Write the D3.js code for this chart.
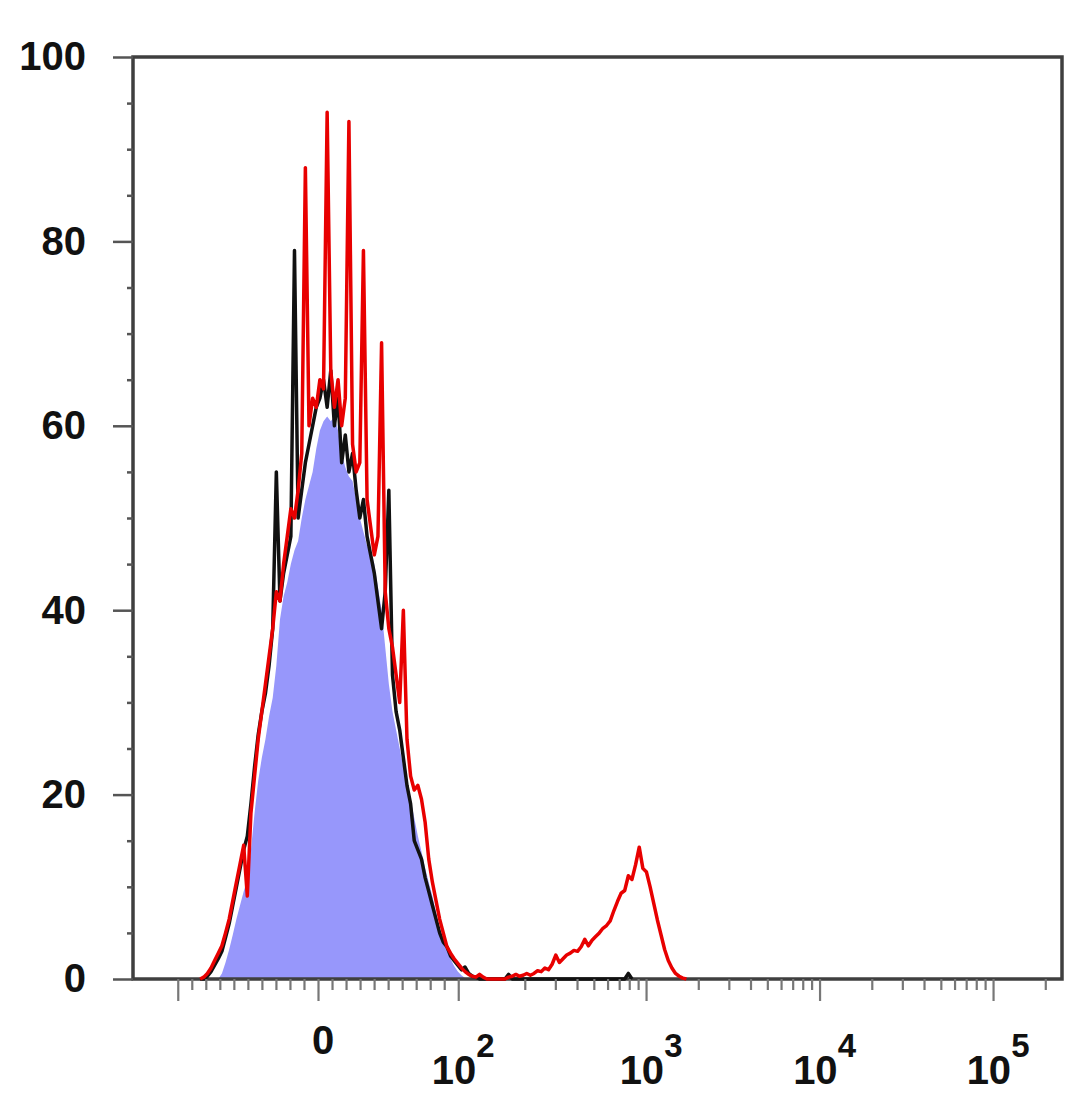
<!DOCTYPE html>
<html>
<head>
<meta charset="utf-8">
<script src="https://cdn.jsdelivr.net/npm/d3@7"></script>
<style>
  body { margin: 0; background: #fff; }
  text { font-family: "Liberation Sans", Arial, sans-serif; font-weight: bold; fill: #111; }
</style>
</head>
<body>
<script>
// histogram: 256 display channels, counts as % of max, series start at channel 18
var nBins = 256;
var firstBin = 18;

// filled (blue) histogram
var fillCounts = [0,0,0,0,0, 0,0.6,1.8,3.2,4.8, 6.5,8,9.5,10.8,14, 18,21.5,24,26,28.5,
  30.5,34,39,41.5,43, 45,46.5,47.5,50,52, 53.5,55,57.5,59.5,60.5, 61,60.5,61,59.5,57,
  55.5,54.5,54,52,50, 48.5,47,46.5,45,42.5, 40,36,32,29,27, 25,23,21.3,19.5,17.5,
  15.5,13.8,12,10.5,9, 7.2,5.6,4.4,3.2,2.2, 1.4,0.8,0.4,0.1,0];

// black outline histogram
var blackCounts = [0,0,0.3,0.8,1.5, 2.2,3,4.5,6,8, 10,12,14,15.5,19, 23,26.5,29,31,34,
  38,55,41,44,46, 48,79,50,53,56, 58,60,62,63,65, 62,66,60,63,56,
  59,55,57,53,50, 52,48,46,44,41, 38,42,53,33,29, 27,24,21,19,15,
  14,13,11,9.5,8, 6.5,5,4,3.5,2.5, 2,1.5,1,1.3,0.6, 0.3,0.2,0,0,0,
  0,0,0,0,0, 0.5,0,0,0,0, 0,0,0,0,0, 0,0,0,0,0, 0,0,0,0,0, 0,0,0,0,0,
  0,0,0,0,0, 0,0,0,0.6,0];

// red histogram
var redCounts = [0,0.2,0.6,1.2,2, 2.8,3.6,5,6.5,8.5, 10.5,12.5,14.5,9,18, 22,26,29,32,35,
  38,42,41,45,48, 51,50,53,57,88, 60,63,62,65,64, 94,66,62,65,60,
  63,93,58,55,56, 79,52,49,46,48, 69,42,38,36,33, 30,40,26,22,20.5,
  21,19.5,17,13,10.5, 8.5,6.5,5,3.5,2.8, 2.2,1.7,1.2,0.8,0.5, 0.3,0.2,0.5,0.2,0,
  0,0,0,0,0, 0.2,0.3,0.5,0.3,0.4, 0.6,0.4,0.6,0.9,0.8, 1.2,1,1.6,2.6,1.8,
  2.2,2.6,2.8,3.1,3, 3.5,4.3,3.6,4.2,4.6, 5,5.5,5.8,6.3,7.4, 8.4,9.3,9.6,11.2,10.8,
  12.4,14.3,12,11.6,10, 8.2,6.4,4.8,3.2,2, 1.2,0.6,0.3,0.1,0];

// axis ticks
var yMajor = [0, 20, 40, 60, 80, 100];
var yMinor = [5,10,15,25,30,35,45,50,55,65,70,75,85,90,95];
var xMajor = [-100, 0, 100, 1000, 10000, 100000];
var xMinor = [-90,-80,-70,-60,-50,-40,-30,-20,-10, 10,20,30,40,50,60,70,80,90,
  200,300,400,500,600,700,800,900, 2000,3000,4000,5000,6000,7000,8000,9000,
  20000,30000,40000,50000,60000,70000,80000,90000, 200000];
var xLabelValues = [0, 100, 1000, 10000, 100000];
var xLabelBase = ["0", "10", "10", "10", "10"];
var xLabelExp = ["", "2", "3", "4", "5"];

// biexponential-like display transform (linear near zero, log above)
var linLimit = 120, linDecades = 0.97;
function biex(v) {
  var a = Math.abs(v);
  var t = a <= linLimit ? a / linLimit * linDecades : linDecades + Math.log10(a / linLimit);
  return v < 0 ? -t : t;
}

var margin = {top: 57, right: 18, bottom: 117, left: 133},
    width = 1080 - margin.left - margin.right,
    height = 1096 - margin.top - margin.bottom;

var dMin = -1.0663, dMax = 4.2882;

var xScale = d3.scaleLinear().domain([dMin, dMax]).range([0, width]);
var binScale = d3.scaleLinear().domain([0, nBins]).range([dMin, dMax]);
var yScale = d3.scaleLinear().domain([0, 100]).range([height, 0]);

function toPoints(counts) {
  return counts.map(function(c, i) { return {bin: firstBin + i, count: c}; });
}
function binX(d) { return xScale(binScale(d.bin + 0.5)); }

var svg = d3.select("body").append("svg")
    .attr("width", 1080)
    .attr("height", 1096)
  .append("g")
    .attr("transform", "translate(" + margin.left + "," + margin.top + ")");

// filled histogram
var area = d3.area()
    .x(binX)
    .y0(height)
    .y1(function(d) { return yScale(d.count); });

svg.append("path")
    .datum(toPoints(fillCounts))
    .attr("fill", "#9797fb")
    .attr("d", area);

// frame
svg.append("rect")
    .attr("width", width)
    .attr("height", height)
    .attr("fill", "none")
    .attr("stroke", "#3f3f3f")
    .attr("stroke-width", 3.5);

var line = d3.line()
    .x(binX)
    .y(function(d) { return yScale(d.count); });

svg.append("path")
    .datum(toPoints(blackCounts))
    .attr("fill", "none")
    .attr("stroke", "#111")
    .attr("stroke-width", 3.5)
    .attr("stroke-linejoin", "round")
    .attr("d", line);

svg.append("path")
    .datum(toPoints(redCounts))
    .attr("fill", "none")
    .attr("stroke", "#e80000")
    .attr("stroke-width", 3.5)
    .attr("stroke-linejoin", "round")
    .attr("d", line);

// y axis
var yAxis = svg.append("g")
    .call(d3.axisLeft(yScale).tickValues(yMajor).tickSize(20).tickSizeOuter(0).tickPadding(27));
yAxis.select(".domain").remove();
yAxis.selectAll("text").attr("font-size", 40).style("fill", "#111");

var yAxisMinor = svg.append("g")
    .call(d3.axisLeft(yScale).tickValues(yMinor).tickSize(6).tickSizeOuter(0).tickFormat(""));
yAxisMinor.select(".domain").remove();

// x axis
var xAxis = svg.append("g")
    .attr("transform", "translate(0," + height + ")")
    .call(d3.axisBottom(xScale).tickValues(xMajor.map(biex)).tickSize(22).tickSizeOuter(0).tickFormat(""));
xAxis.select(".domain").remove();

var xAxisMinor = svg.append("g")
    .attr("transform", "translate(0," + height + ")")
    .call(d3.axisBottom(xScale).tickValues(xMinor.map(biex)).tickSize(11).tickSizeOuter(0).tickFormat(""));
xAxisMinor.select(".domain").remove();

yAxis.selectAll(".tick line").attr("stroke", "#555").attr("stroke-width", 2.5);
yAxisMinor.selectAll(".tick line").attr("stroke", "#555").attr("stroke-width", 2.5);
xAxis.selectAll(".tick line").attr("stroke", "#777").attr("stroke-width", 2.2);
xAxisMinor.selectAll(".tick line").attr("stroke", "#777").attr("stroke-width", 2.2);

// x labels with exponents
var labels = svg.append("g").selectAll("text")
    .data(xLabelValues)
  .enter().append("text")
    .attr("text-anchor", "middle")
    .attr("x", function(d) { return xScale(biex(d)) + 5; })
    .attr("y", function(d, i) { return xLabelExp[i] ? height + 105 : height + 75; })
    .attr("font-size", 40);

labels.append("tspan")
    .text(function(d, i) { return xLabelBase[i]; });

labels.append("tspan")
    .attr("font-size", 33)
    .attr("dy", -27)
    .text(function(d, i) { return xLabelExp[i]; });
</script>
</body>
</html>
